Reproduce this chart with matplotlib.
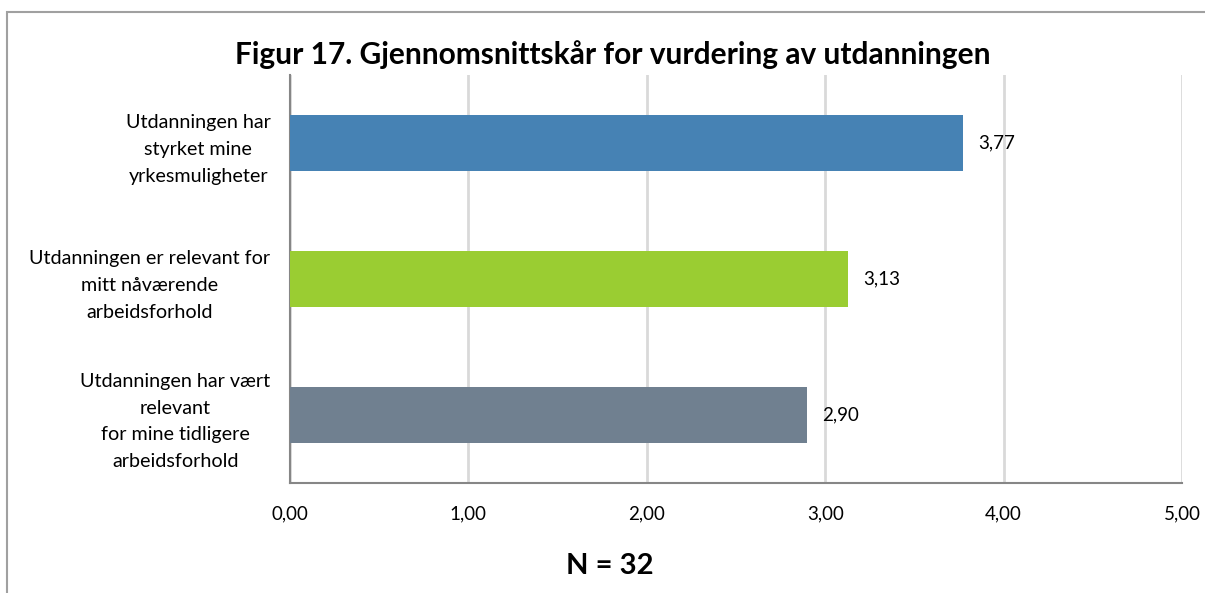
import matplotlib.pyplot as plt
from matplotlib.patches import Rectangle

plt.rcParams["font.family"] = ["Lato", "DejaVu Sans"]

categories = [
    "Utdanningen har\nstyrket mine\nyrkesmuligheter",
    "Utdanningen er relevant for\nmitt nåværende\narbeidsforhold",
    "Utdanningen har vært\nrelevant\nfor mine tidligere\narbeidsforhold",
]
values = [3.77, 3.13, 2.90]
colors = ["#4682B4", "#9ACD32", "#708090"]
xticks = [0, 1, 2, 3, 4, 5]

fig = plt.figure(figsize=(12.05, 5.93), dpi=100)
W, H = 1205, 593
ax = fig.add_axes([290 / W, 1 - 483 / H, (1182 - 290) / W, (483 - 75) / H])

# outer chart border
fig.patches.append(Rectangle((7 / W, -0.1), 1.2, 1 - 12 / H + 0.1, transform=fig.transFigure,
                             fill=False, edgecolor="#a0a0a0", linewidth=1.5))

ypos = list(range(len(categories)))
ax.barh(ypos, values, height=0.405, color=colors, zorder=3)
for y, v in zip(ypos, values):
    ax.text(v + 0.085, y, f"{v:.2f}".replace(".", ","), va="center", ha="left", fontsize=13.5)

ax.set_ylim(2.5, -0.5)
ax.set_xlim(0, 5)
ax.set_xticks(xticks)
ax.set_xticklabels([f"{t:.2f}".replace(".", ",") for t in xticks], fontsize=13.5)
ax.set_yticks(ypos)
ax.set_yticklabels(categories, fontsize=14.2, ha="right", multialignment="center", linespacing=1.7)
ax.tick_params(axis="y", length=0, pad=14)
ax.tick_params(axis="x", length=0, pad=16)
ax.grid(axis="x", color="#d9d9d9", linewidth=2, zorder=0)
for s in ["top", "right"]:
    ax.spines[s].set_visible(False)
for s in ["left", "bottom"]:
    ax.spines[s].set_color("#868686")
    ax.spines[s].set_linewidth(1.5)

fig.text(613 / W, 1 - 55 / H, "Figur 17. Gjennomsnittskår for vurdering av utdanningen",
         ha="center", va="center", fontsize=21.5, fontweight="bold")
fig.text(610 / W, 1 - 566 / H, "N = 32", ha="center", va="center", fontsize=21, fontweight="bold")

fig.savefig("out.png", dpi=100)
